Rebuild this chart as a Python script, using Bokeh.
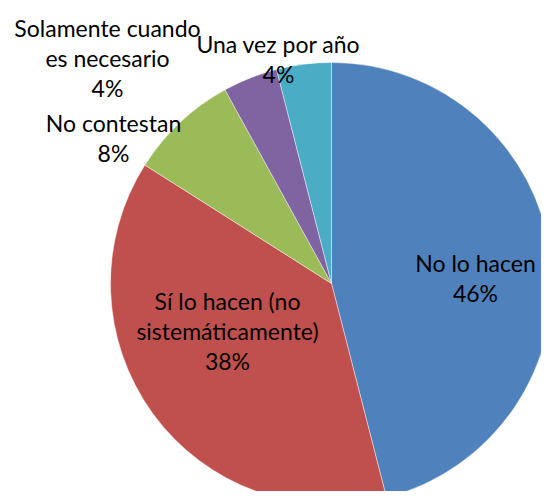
import math
from bokeh.plotting import figure
from bokeh.models import Range1d, ColumnDataSource
from bokeh.core.properties import value
from bokeh.embed import file_html
from bokeh.resources import INLINE

# Data
categories = ["No lo hacen", "Sí lo hacen (no sistemáticamente)", "No contestan",
              "Solamente cuando es necesario", "Una vez por año"]
percent = [46, 38, 8, 4, 4]
colors = ["#4F81BD", "#C0504D", "#9BBB59", "#8064A2", "#4BACC6"]
label_lines = [["No lo hacen", "46%"],
               ["Sí lo hacen (no", "sistemáticamente)", "38%"],
               ["No contestan", "8%"],
               ["Solamente cuando", "es necesario", "4%"],
               ["Una vez por año", "4%"]]

# Layout (reference pixel coordinates)
W, H = 541, 491
CX, CY, R = 331, 283, 221
label_anchor = [(475, 262), (227, 300), (113, 122), (107, 27), (278, 43)]
LINE_H = 30

def ty(py):
    return H - py

p = figure(width=W, height=H, output_backend="svg", toolbar_location=None,
           x_range=Range1d(0, W), y_range=Range1d(0, H), min_border=0)
p.axis.visible = False
p.grid.visible = False
p.outline_line_color = None
p.background_fill_color = "white"

total = sum(percent)
starts, ends = [], []
acc = 0.0
for v in percent:
    starts.append(math.pi / 2 - 2 * math.pi * acc / total)
    acc += v
    ends.append(math.pi / 2 - 2 * math.pi * acc / total)

src = ColumnDataSource(dict(x=[CX] * len(percent), y=[ty(CY)] * len(percent),
                            start=starts, end=ends, color=colors, cat=categories))
p.wedge(x="x", y="y", radius=R, radius_units="screen", start_angle="start", end_angle="end",
        direction="clock", fill_color="color", line_color="white", line_width=0.6,
        line_alpha=0.7, source=src)

tx, tyy, tt = [], [], []
for lines, (ax, ay) in zip(label_lines, label_anchor):
    for i, s in enumerate(lines):
        tx.append(ax)
        tyy.append(ty(ay + i * LINE_H))
        tt.append(s)

p.text(x=tx, y=tyy, text=tt, text_align="center", text_baseline="middle",
       text_font=value("Lato"), text_font_size="23px", text_font_style="normal",
       text_color="#000000")

open("out.html", "w").write(file_html(p, INLINE))
